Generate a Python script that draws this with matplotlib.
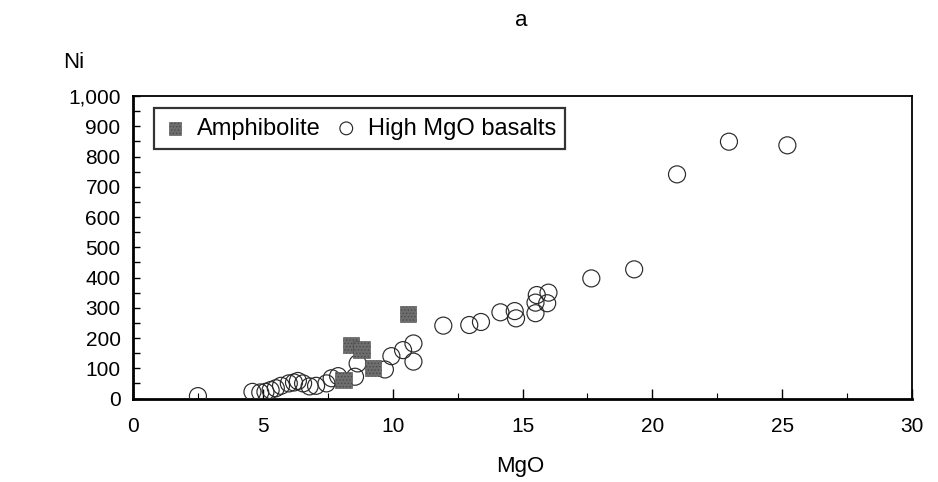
import matplotlib
matplotlib.use("Agg")
import matplotlib.pyplot as plt
from matplotlib.ticker import MultipleLocator, FuncFormatter

plt.rcParams['font.family'] = ['Liberation Sans', 'DejaVu Sans']
plt.rcParams['hatch.linewidth'] = 0.6

# Amphibolite samples
amph_mgo = [8.1, 8.4, 8.8, 9.25, 10.6]
amph_ni = [61, 177, 162, 100, 280]

# High MgO basalts
basalt_mgo = [2.5, 4.6, 4.9, 5.1, 5.3, 5.5, 5.7, 6.0, 6.2, 6.35, 6.55, 6.8,
              7.05, 7.45, 7.65, 7.9, 8.55, 8.65, 9.7, 9.95, 10.4, 10.8, 10.8,
              11.95, 12.95, 13.4, 14.15, 14.7, 14.75, 15.5, 15.5, 15.55,
              15.95, 16.0, 17.65, 19.3, 20.95, 22.95, 25.2]
basalt_ni = [8, 22, 20, 22, 28, 34, 42, 50, 53, 58, 50, 40,
             42, 50, 67, 74, 72, 116, 96, 140, 160, 182, 122,
             241, 243, 253, 285, 289, 265, 282, 317, 342,
             315, 350, 397, 427, 741, 849, 837]

fig = plt.figure(figsize=(9.38, 4.82), dpi=100)
ax = fig.add_axes([0.1418, 0.1732, 0.8305, 0.6276])

ax.scatter(basalt_mgo, basalt_ni, marker='o', s=150, facecolors='none',
           edgecolors='#2a2a2a', linewidths=0.85, zorder=3,
           label='High MgO basalts')
ax.scatter(amph_mgo, amph_ni, marker='s', s=140, c='#6e6e6e',
           edgecolors='#4a4a4a', linewidths=0.4, hatch='.....', zorder=4,
           label='Amphibolite')

ax.set_xlim(0, 30)
ax.set_ylim(0, 1000)
ax.xaxis.set_major_locator(MultipleLocator(5))
ax.xaxis.set_minor_locator(MultipleLocator(2.5))
ax.yaxis.set_major_locator(MultipleLocator(100))
ax.yaxis.set_minor_locator(MultipleLocator(50))
ax.yaxis.set_major_formatter(FuncFormatter(lambda v, p: f"{v:,.0f}"))

ax.tick_params(axis='x', which='major', direction='in', length=7, width=1.0,
               labelsize=15, pad=13, top=False)
ax.tick_params(axis='x', which='minor', direction='in', length=4, width=0.8,
               top=False)
ax.tick_params(axis='y', which='both', direction='in', length=5, width=1.0,
               right=False)
ax.tick_params(axis='y', which='major', labelsize=15, pad=9)

for side in ('left', 'bottom'):
    ax.spines[side].set_linewidth(2.0)
for side in ('top', 'right'):
    ax.spines[side].set_linewidth(1.3)

ax.set_xlabel('MgO', fontsize=16)
ax.xaxis.set_label_coords(0.497, -0.19)
ax.set_ylabel('Ni', fontsize=16, rotation=0, ha='center', va='center')
ax.yaxis.set_label_coords(-0.0757, 1.112)

fig.text(521 / 938, 1 - 20 / 482, 'a', ha='center', va='center', fontsize=16)

handles, labels = ax.get_legend_handles_labels()
leg = ax.legend(handles[::-1], labels[::-1], loc='upper left',
                bbox_to_anchor=(0.027, 0.960), borderaxespad=0, ncol=2,
                fontsize=17, frameon=True, fancybox=False, markerscale=0.75,
                handlelength=1.0, handletextpad=0.4, columnspacing=0.6,
                borderpad=0.4)
leg.get_frame().set_edgecolor('black')
leg.get_frame().set_linewidth(1.6)

fig.savefig('out.png', dpi=100)
